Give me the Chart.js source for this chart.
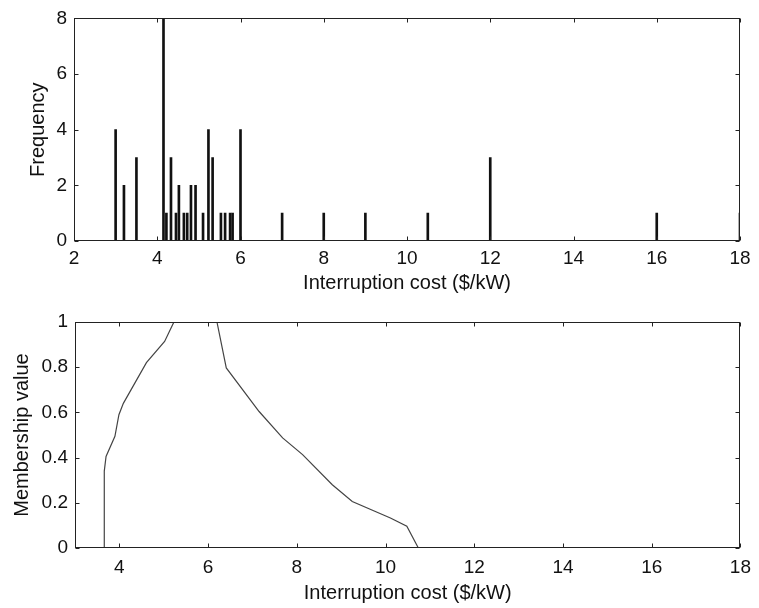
<!DOCTYPE html>
<html><head><meta charset="utf-8">
<script src="https://cdn.jsdelivr.net/npm/chart.js@4/dist/chart.umd.min.js"></script>
<style>
html,body{margin:0;padding:0;background:#fff;}
#w{position:relative;width:759px;height:608px;overflow:hidden;}
canvas{position:absolute;left:0;}
</style></head><body>
<div id="w">
<canvas id="c1" width="759" height="300" style="top:0"></canvas>
<canvas id="c2" width="759" height="308" style="top:300px"></canvas>
</div>
<script>
// Histogram: interruption cost ($/kW) and frequency
const costValues  = [3.0, 3.2, 3.5, 4.15, 4.22, 4.33, 4.45, 4.52, 4.64, 4.72, 4.81, 4.92, 5.1, 5.23, 5.33, 5.53, 5.63, 5.75, 5.81, 6.0, 7, 8, 9, 10.5, 12, 16, 18];
const frequencies = [4,   2,   3,   8,    1,    3,    1,    2,    1,    1,    2,    2,    1,   4,    3,    1,    1,    1,    1,    4,   1, 1, 1, 1,    3,  1,  1];
// Membership function
const memberX = [3.66, 3.66, 3.70, 3.90, 3.99, 4.09, 4.61, 5.02, 5.23, 6.20, 6.41, 7.15, 7.68, 8.13, 8.80, 9.25, 10.11, 10.48, 10.74];
const memberY = [0,    0.34, 0.405,0.494,0.59, 0.64, 0.82, 0.914,1.0,  1.0,  0.797,0.604,0.487,0.413,0.28, 0.206,0.133, 0.096, 0];
const xTitle = 'Interruption cost ($/kW)';
const yTitleTop = 'Frequency';
const yTitleBottom = 'Membership value';

const FAM = '"Liberation Sans", Arial, Helvetica, sans-serif';
const INK = '#111';

const framePlugin = {
  id: 'frame',
  afterDatasetsDraw(chart) {
    const {ctx, chartArea: a, scales: {x, y}} = chart;
    const L = 4;
    ctx.save();
    ctx.strokeStyle = '#222';
    ctx.lineWidth = 1;
    const l = Math.round(a.left) + 0.5, r = Math.round(a.right) - 0.5;
    const t = Math.round(a.top) + 0.5, b = Math.round(a.bottom) - 0.5;
    ctx.strokeRect(l, t, r - l, b - t);
    ctx.beginPath();
    x.ticks.forEach(tk => {
      const px = Math.round(x.getPixelForValue(tk.value)) + 0.5;
      ctx.moveTo(px, b); ctx.lineTo(px, b - L);
      ctx.moveTo(px, t); ctx.lineTo(px, t + L);
    });
    y.ticks.forEach(tk => {
      const py = Math.round(y.getPixelForValue(tk.value)) + 0.5;
      ctx.moveTo(l, py); ctx.lineTo(l + L, py);
      ctx.moveTo(r, py); ctx.lineTo(r - L, py);
    });
    ctx.stroke();
    ctx.restore();
  }
};

const tickFont = {family: FAM, size: 19};
const titleFont = {family: FAM, size: 20};
const noGrid = {display: false, drawTicks: false};
const fmt = v => String(Number(Number(v).toFixed(2)));

new Chart(document.getElementById('c1'), {
  type: 'bar',
  data: {
    datasets: [{
      data: costValues.map((v, i) => ({x: v, y: frequencies[i]})),
      backgroundColor: '#111',
      borderWidth: 0,
      barThickness: 2
    }]
  },
  options: {
    responsive: false, animation: false, devicePixelRatio: 1,
    layout: {padding: {top: 17, right: 19, left: 0, bottom: 0}},
    plugins: {legend: {display: false}, tooltip: {enabled: false}},
    scales: {
      x: {
        type: 'linear', min: 2, max: 18, offset: false,
        grid: noGrid, border: {display: false},
        ticks: {stepSize: 2, padding: 6, color: INK, font: tickFont, maxRotation: 0, callback: fmt},
        title: {display: true, text: xTitle, color: INK, font: titleFont, padding: {top: 0, bottom: 5}},
        afterFit(s) { s.height = 59; }
      },
      y: {
        type: 'linear', min: 0, max: 8,
        grid: noGrid, border: {display: false},
        ticks: {stepSize: 2, padding: 7, color: INK, font: tickFont, callback: fmt},
        title: {display: true, text: yTitleTop, color: INK, font: titleFont, padding: {top: 26, bottom: 0}},
        afterFit(s) { s.width = 74; }
      }
    }
  },
  plugins: [framePlugin]
});

new Chart(document.getElementById('c2'), {
  type: 'line',
  data: {
    datasets: [{
      data: memberX.map((v, i) => ({x: v, y: memberY[i]})),
      borderColor: '#444',
      borderWidth: 1.2,
      pointRadius: 0,
      tension: 0,
      fill: false
    }]
  },
  options: {
    responsive: false, animation: false, devicePixelRatio: 1,
    layout: {padding: {top: 22, right: 15, left: 0, bottom: 0}},
    plugins: {legend: {display: false}, tooltip: {enabled: false}},
    scales: {
      x: {
        type: 'linear', min: 3, max: 18, offset: false,
        grid: noGrid, border: {display: false},
        ticks: {stepSize: 2, includeBounds: false, padding: 8, color: INK, font: tickFont, maxRotation: 0, callback: fmt},
        title: {display: true, text: xTitle, color: INK, font: titleFont, padding: {top: 0, bottom: 3}},
        afterFit(s) { s.height = 60; }
      },
      y: {
        type: 'linear', min: 0, max: 1,
        grid: noGrid, border: {display: false},
        ticks: {stepSize: 0.2, padding: 7, color: INK, font: tickFont, callback: fmt},
        title: {display: true, text: yTitleBottom, color: INK, font: titleFont, padding: {top: 10, bottom: 0}},
        afterFit(s) { s.width = 75; }
      }
    }
  },
  plugins: [framePlugin]
});
</script>
</body></html>
